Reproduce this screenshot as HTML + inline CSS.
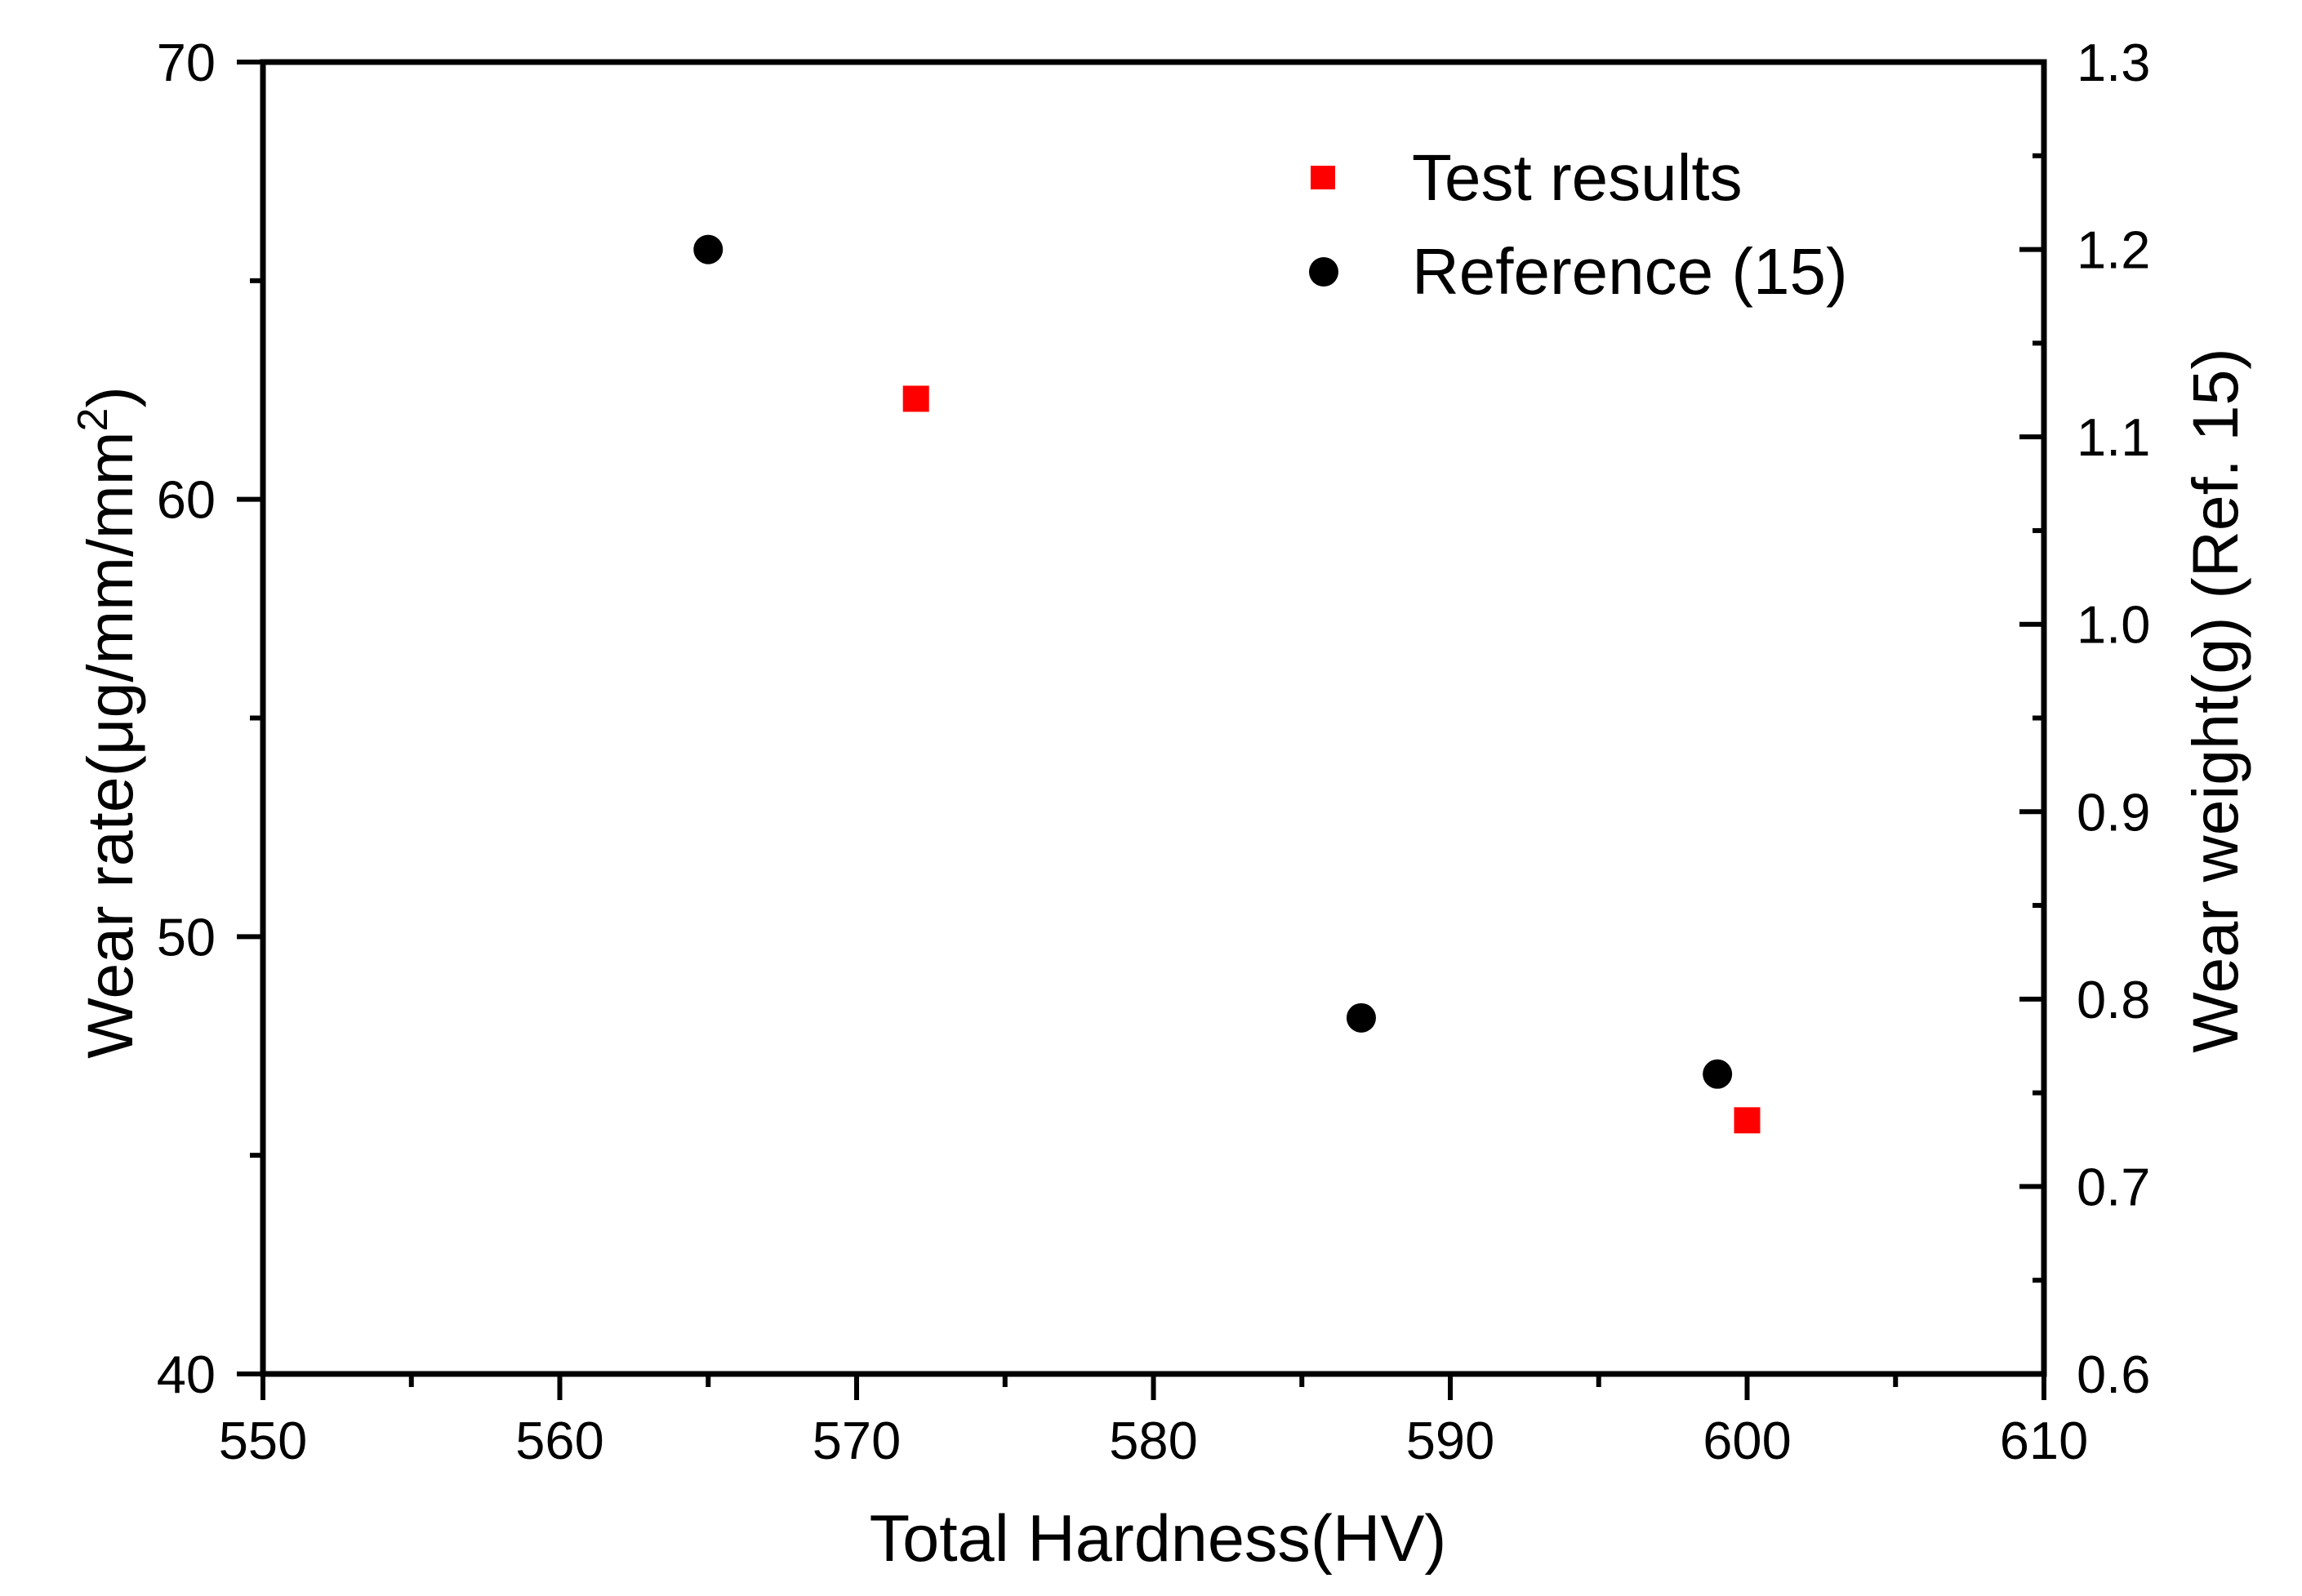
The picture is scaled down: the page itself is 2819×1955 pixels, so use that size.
<!DOCTYPE html>
<html><head><meta charset="utf-8"><style>
html,body{margin:0;padding:0;background:#fff;}
svg{display:block;font-family:"Liberation Sans",Arial,sans-serif;}
</style></head><body>
<svg id="chart" width="2819" height="1955" viewBox="0 0 2819 1955" xmlns="http://www.w3.org/2000/svg">
<rect width="2819" height="1955" fill="#fff"/>
<g id="axes"></g>
<g id="marks"></g>
<text x="1418" y="1912" font-size="81" text-anchor="middle">Total Hardness(HV)</text>
<text transform="translate(162,885) rotate(-90)" font-size="79" text-anchor="middle">Wear rate(μg/mm/mm<tspan dy="-31" font-size="52">2</tspan><tspan dy="31">)</tspan></text>
<text transform="translate(2740,858) rotate(-90)" font-size="79" text-anchor="middle">Wear weight(g) (Ref. 15)</text>
<g>
<rect x="1605" y="203" width="30" height="29" fill="#ff0000"/>
<text x="1729" y="245" font-size="80">Test results</text>
<circle cx="1621" cy="333" r="18" fill="#000"/>
<text x="1729" y="360" font-size="80">Reference (15)</text>
</g>
</svg>
<script>
const testX = [572, 600];
const testY = [62.3, 45.8];
const refX = [565, 587, 599];
const refY = [1.2, 0.79, 0.76];
const xTicks = [550, 560, 570, 580, 590, 600, 610];
const yTicks = [40, 50, 60, 70];
const y2Ticks = ['0.6','0.7','0.8','0.9','1.0','1.1','1.2','1.3'];

const L=322, R=2503, T=76, B=1683;
const xs = v => L + (v-550)/(610-550)*(R-L);
const ys = v => B - (v-40)/(70-40)*(B-T);
const y2s = v => B - (v-0.6)/(1.3-0.6)*(B-T);
const NS='http://www.w3.org/2000/svg';
const axes=document.getElementById('axes');
const marks=document.getElementById('marks');
function mk(tag,attrs,parent){const e=document.createElementNS(NS,tag);for(const k in attrs)e.setAttribute(k,attrs[k]);parent.appendChild(e);return e;}

const frame=mk('rect',{x:L,y:T,width:R-L,height:B-T,fill:'none',stroke:'#000','stroke-width':7},axes);



for(let v=550; v<=610; v+=5){
  const major = v%10===0;
  const t=mk('line',{x1:xs(v),x2:xs(v),y1:B,y2:B+(major?32:16),stroke:'#000','stroke-width':6},axes);
  
  
}
xTicks.forEach(v=>{
  const t=mk('text',{x:xs(v),y:B+104,'font-size':65,'text-anchor':'middle'},axes);
  t.textContent=v;
  
  
});
for(let v=40; v<=70; v+=5){
  const major = v%10===0;
  const t=mk('line',{x1:L-(major?32:16),x2:L,y1:ys(v),y2:ys(v),stroke:'#000','stroke-width':6},axes);
  
  
}
yTicks.forEach(v=>{
  const t=mk('text',{x:L-58,y:ys(v)+23,'font-size':65,'text-anchor':'end'},axes);
  t.textContent=v;
  
  
});
for(let i=0;i<=14;i++){
  const v=0.6+i*0.05;
  const major = i%2===0;
  const t=mk('line',{x1:R-(major?30:14),x2:R,y1:y2s(v),y2:y2s(v),stroke:'#000','stroke-width':6},axes);
  
  
}
y2Ticks.forEach(s=>{
  const t=mk('text',{x:R+40,y:y2s(parseFloat(s))+23,'font-size':65,'text-anchor':'start'},axes);
  t.textContent=s;
  
  
});
testX.forEach((x,i)=>{
  const s=mk('rect',{x:xs(x)-16,y:ys(testY[i])-16,width:32,height:32,fill:'#ff0000'},marks);
  
  
});
refX.forEach((x,i)=>{
  const c=mk('circle',{cx:xs(x),cy:y2s(refY[i]),r:18,fill:'#000'},marks);
  
  
});
</script>
</body></html>
